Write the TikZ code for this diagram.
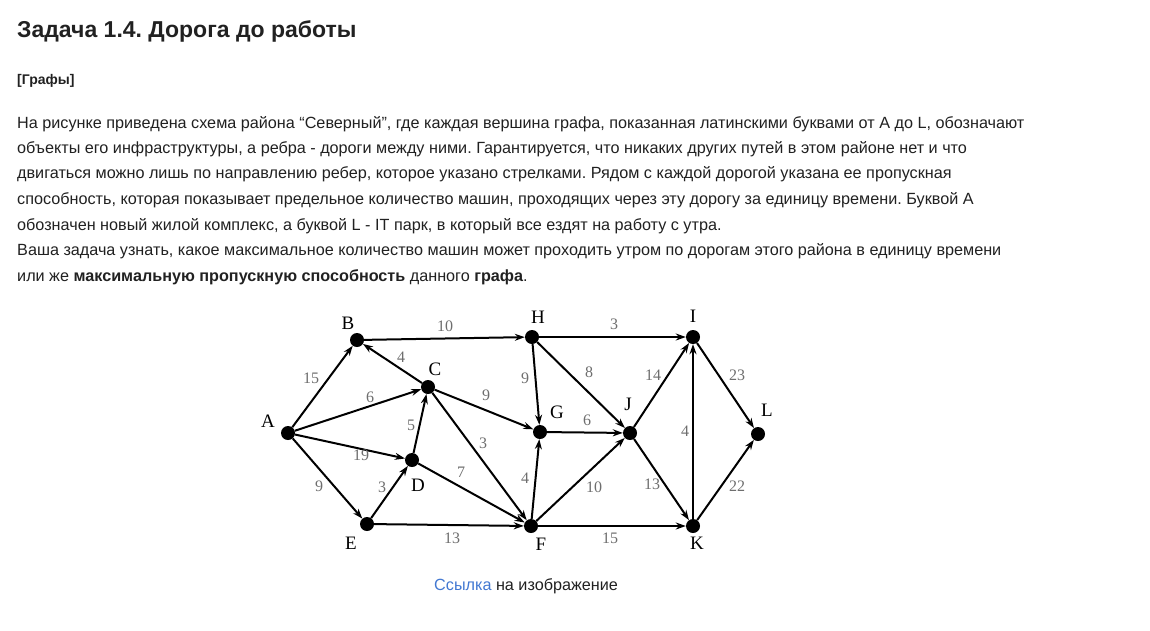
\documentclass[tikz,border=0pt]{standalone}
\usepackage{fontspec}
\setmainfont{Liberation Sans}
\newfontfamily\graphfont{Liberation Serif}
\usetikzlibrary{arrows.meta}
\definecolor{txt}{RGB}{33,33,33}
\definecolor{lbl}{RGB}{110,110,110}
\definecolor{linkblue}{RGB}{66,120,210}
\tikzset{
  vtx/.style={circle,fill=black,inner sep=0pt,minimum size=14pt},
  vname/.style={font=\graphfont\fontsize{19}{19}\selectfont,text=black,inner sep=0pt},
  wlab/.style={font=\graphfont\fontsize{16}{16}\selectfont,text=lbl,inner sep=0pt},
  road/.style={line width=2pt,-{Stealth[length=10pt,width=7pt]}},
  bodyline/.style={anchor=west,inner sep=0pt,font=\fontsize{16.2}{19}\selectfont,text=txt},
}
\begin{document}
\frenchspacing
\begin{tikzpicture}[x=1pt,y=-1pt]
\useasboundingbox[fill=white] (0,0) rectangle (1150,630);
% header
\node[anchor=west,inner sep=0pt,font=\bfseries\fontsize{23}{27}\selectfont,text=txt] (title) at (17,31) {Задача 1.4. Дорога до работы};
\node[anchor=west,inner sep=0pt,font=\bfseries\fontsize{14}{17}\selectfont,text=txt] (tag) at (17,81) {[Графы]};
\node[bodyline] (l1) at (17,124) {На рисунке приведена схема района “Северный”, где каждая вершина графа, показанная латинскими буквами от A до L, обозначают};
\node[bodyline] (l2) at (17,149) {объекты его инфраструктуры, а ребра - дороги между ними. Гарантируется, что никаких других путей в этом районе нет и что};
\node[bodyline] (l3) at (17,174) {двигаться можно лишь по направлению ребер, которое указано стрелками. Рядом с каждой дорогой указана ее пропускная};
\node[bodyline] (l4) at (17,200) {способность, которая показывает предельное количество машин, проходящих через эту дорогу за единицу времени. Буквой A};
\node[bodyline] (l5) at (17,226) {обозначен новый жилой комплекс, а буквой L - IT парк, в который все ездят на работу с утра.};
\node[bodyline] (l6) at (17,251) {Ваша задача узнать, какое максимальное количество машин может проходить утром по дорогам этого района в единицу времени};
\node[bodyline] (l7) at (17,277) {или же \textbf{максимальную пропускную способность} данного \textbf{графа}.};
% vertices
\node[vtx] (A) at (288,433) {};
\node[vtx] (B) at (357,340) {};
\node[vtx] (C) at (428,387) {};
\node[vtx] (D) at (412,460) {};
\node[vtx] (E) at (367,524) {};
\node[vtx] (F) at (531,526) {};
\node[vtx] (G) at (540,432) {};
\node[vtx] (H) at (532,337) {};
\node[vtx] (I) at (693,337) {};
\node[vtx] (J) at (630,433) {};
\node[vtx] (K) at (693,526) {};
\node[vtx] (L) at (758,434) {};
% vertex names
\node[vname] (nA) at (268,421) {A};
\node[vname] (nB) at (348,323) {B};
\node[vname] (nC) at (435,369) {C};
\node[vname] (nD) at (418,485) {D};
\node[vname] (nE) at (351,543) {E};
\node[vname] (nF) at (541,544) {F};
\node[vname] (nG) at (557,412) {G};
\node[vname] (nH) at (538,317) {H};
\node[vname] (nI) at (693,316) {I};
\node[vname] (nJ) at (628,404) {J};
\node[vname] (nK) at (697,543) {K};
\node[vname] (nL) at (767,410) {L};
% roads
\draw[road] (A) -- (B);
\draw[road] (A) -- (C);
\draw[road] (A) -- (D);
\draw[road] (A) -- (E);
\draw[road] (B) -- (H);
\draw[road] (C) -- (B);
\draw[road] (C) -- (G);
\draw[road] (C) -- (F);
\draw[road] (D) -- (C);
\draw[road] (D) -- (F);
\draw[road] (E) -- (D);
\draw[road] (E) -- (F);
\draw[road] (H) -- (I);
\draw[road] (H) -- (G);
\draw[road] (H) -- (J);
\draw[road] (G) -- (J);
\draw[road] (F) -- (G);
\draw[road] (F) -- (J);
\draw[road] (F) -- (K);
\draw[road] (J) -- (I);
\draw[road] (J) -- (K);
\draw[road] (K) -- (I);
\draw[road] (I) -- (L);
\draw[road] (K) -- (L);
% capacities
\node[wlab] (wBH) at (445,326) {10};
\node[wlab] (wHI) at (614,324) {3};
\node[wlab] (wAB) at (311,378) {15};
\node[wlab] (wCB) at (401,357) {4};
\node[wlab] (wAC) at (370,397) {6};
\node[wlab] (wCG) at (486,395) {9};
\node[wlab] (wHG) at (525,378) {9};
\node[wlab] (wHJ) at (589,372) {8};
\node[wlab] (wJI) at (653,375) {14};
\node[wlab] (wIL) at (737,375) {23};
\node[wlab] (wGJ) at (587,420) {6};
\node[wlab] (wDC) at (411,425) {5};
\node[wlab] (wAD) at (361,455) {19};
\node[wlab] (wCF) at (483,443) {3};
\node[wlab] (wKI) at (685,431) {4};
\node[wlab] (wAE) at (319,486) {9};
\node[wlab] (wED) at (382,487) {3};
\node[wlab] (wDF) at (461,472) {7};
\node[wlab] (wFG) at (525,478) {4};
\node[wlab] (wFJ) at (594,487) {10};
\node[wlab] (wJK) at (652,484) {13};
\node[wlab] (wKL) at (737,486) {22};
\node[wlab] (wEF) at (452,538) {13};
\node[wlab] (wFK) at (610,538) {15};
% link line
\node[anchor=west,inner sep=0pt,font=\fontsize{16.2}{19}\selectfont,text=txt] (cap) at (434,586) {\textcolor{linkblue}{Ссылка} на изображение};
\end{tikzpicture}
\end{document}
